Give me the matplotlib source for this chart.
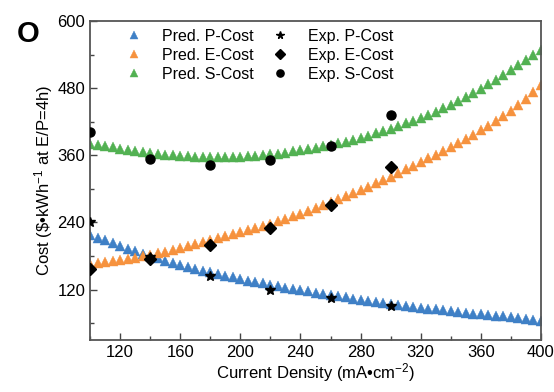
import numpy as np
import matplotlib
matplotlib.use("Agg")
import matplotlib.pyplot as plt
from matplotlib.ticker import MultipleLocator

plt.rcParams['font.family'] = ['Liberation Sans', 'DejaVu Sans']
plt.rcParams['mathtext.fontset'] = 'custom'
plt.rcParams['mathtext.rm'] = 'Liberation Sans'
plt.rcParams['mathtext.it'] = 'Liberation Sans:italic'
plt.rcParams['mathtext.bf'] = 'Liberation Sans:bold'

# Predicted curves (current density 100..400 step 5)
pred_x = list(range(100, 401, 5))
pred_p = [218, 213, 208, 203, 198, 193, 189, 184, 180, 176, 172, 168, 164, 161, 157, 154,
          151, 148, 145, 142, 139, 136, 133, 131, 128, 126, 123, 121, 119, 117, 114, 112,
          110, 108, 106, 104, 102, 100, 98, 96, 94, 93, 91, 89, 88, 86, 85, 83, 82, 80,
          79, 77, 76, 75, 73, 72, 71, 69, 67, 66, 64]
pred_e = [165, 167, 169, 171, 173, 175, 177, 179.5, 182, 185, 188, 191, 194, 197.5, 201,
          204.5, 208, 211.5, 215, 219, 223, 227, 230.5, 234, 238, 242.5, 247, 251.5, 256,
          261, 266, 271, 276, 281.5, 287, 292.5, 298, 304, 310, 316, 322, 328.5, 335,
          341.5, 348, 354.5, 361, 367.5, 374, 381.5, 389, 397, 405, 413, 421.5, 430.5,
          440, 450, 461, 473, 486]
pred_s = [380, 378, 376, 374, 372, 370, 368, 366, 364, 362.5, 361, 360, 359, 358, 357.5,
          357, 356.5, 356.5, 356.5, 357, 357.5, 358, 359, 360, 361.5, 363, 365, 367, 369,
          371, 373.5, 376, 378.5, 381.5, 384.5, 388, 391.5, 395, 399, 403, 407.5, 412,
          417, 422, 427, 432.5, 438, 444, 450.5, 457, 464, 471, 479, 487, 495, 503.5,
          512, 521, 530, 539, 548]

# Experimental points
exp_p_x = [100, 140, 180, 220, 260, 300]
exp_p = [241, 178, 144, 120, 105, 91]
exp_e_x = [100, 140, 180, 220, 260, 300]
exp_e = [156, 174, 199, 231, 272, 339]
exp_s_x = [100, 140, 180, 220, 260, 300]
exp_s = [401, 354, 343, 351, 376, 432]

c_blue = '#3f80c6'
c_orange = '#f6923e'
c_green = '#52b152'

fig = plt.figure(figsize=(5.54, 3.92), dpi=100)
ax = fig.add_axes([0.1625, 0.1327, 0.8140, 0.8137])

ms_t = 7
ax.plot(pred_x, pred_p, linestyle='none', marker='^', ms=ms_t, color=c_blue, mec=c_blue, mew=0.3, label='Pred. P-Cost')
ax.plot(pred_x, pred_e, linestyle='none', marker='^', ms=ms_t, color=c_orange, mec=c_orange, mew=0.3, label='Pred. E-Cost')
ax.plot(pred_x, pred_s, linestyle='none', marker='^', ms=ms_t, color=c_green, mec=c_green, mew=0.3, label='Pred. S-Cost')
ax.plot(exp_e_x, exp_e, linestyle='none', marker='D', ms=6, color='black', label='Exp. E-Cost', zorder=4)
ax.plot(exp_p_x, exp_p, linestyle='none', marker='*', ms=7, color='black', label='Exp. P-Cost', zorder=5)
ax.plot(exp_s_x, exp_s, linestyle='none', marker='o', ms=6.5, color='black', label='Exp. S-Cost', zorder=4)

ax.set_xlim(100, 400)
ax.set_ylim(30, 600)
ax.xaxis.set_minor_locator(MultipleLocator(20))
ax.yaxis.set_minor_locator(MultipleLocator(60))
ax.set_xticks([120, 160, 200, 240, 280, 320, 360, 400])
ax.set_yticks([120, 240, 360, 480, 600])
ax.tick_params(axis='both', which='major', direction='in', length=5, width=1, labelsize=12, color='#444444')
ax.tick_params(axis='both', which='minor', direction='in', length=3, width=1, color='#444444')
for s in ax.spines.values():
    s.set_color('#555555')
    s.set_linewidth(1.3)

ax.set_xlabel('Current Density (mA\u2022cm$^{-2}$)', fontsize=12, labelpad=1)
ax.set_ylabel('Cost (\\$\u2022kWh$^{-1}$ at E/P=4h)', fontsize=12, labelpad=2)

h, l = ax.get_legend_handles_labels()
order = [0, 1, 2, 4, 3, 5]
ax.legend([h[i] for i in order], [l[i] for i in order], ncol=2, loc='upper left',
          bbox_to_anchor=(0.04, 1.02), frameon=False, fontsize=11.5, handletextpad=1.0,
          columnspacing=0.9, labelspacing=0.25, markerscale=0.8, handlelength=1.5)

fig.text(0.05, 0.912, 'O', fontsize=21, fontweight='bold', ha='center', va='center')

fig.savefig('out.png', dpi=100)
